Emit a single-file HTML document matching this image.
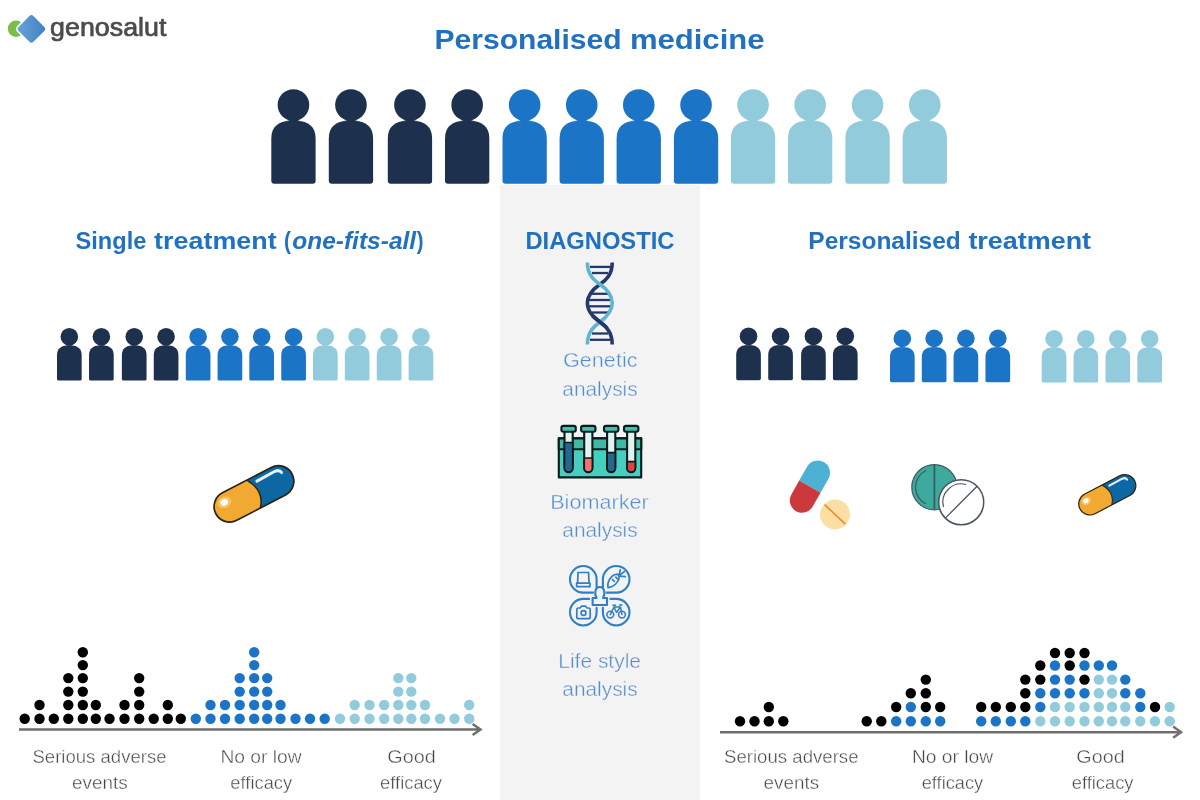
<!DOCTYPE html>
<html lang="en">
<head>
<meta charset="utf-8">
<title>Personalised medicine</title>
<style>
html,body{margin:0;padding:0;background:#fff;}
body{width:1200px;height:800px;overflow:hidden;font-family:"Liberation Sans",sans-serif;}
svg{display:block;}
text{font-family:"Liberation Sans",sans-serif;}
.h{font-weight:bold;fill:#2071c0;}
.lb{fill:#528dce;stroke:#f3f3f3;stroke-width:0.4px;}
.ax{fill:#474747;stroke:#ffffff;stroke-width:0.38px;}
</style>
</head>
<body>
<svg width="1200" height="800" viewBox="0 0 1200 800">
<defs>
<g id="person">
<circle cx="22.15" cy="15.6" r="15.8"/>
<path d="M0 91.4 L0 49 C0 37.5 7 31.6 19 31.6 L25.3 31.6 C37.3 31.6 44.3 37.5 44.3 49 L44.3 91.4 Q44.3 94.4 41.3 94.4 L3 94.4 Q0 94.4 0 91.4 Z"/>
<path d="M12.5 32 Q18.3 31.6 19 29.6 L25.3 29.6 Q26 31.6 31.8 32 Z"/>
</g>
<linearGradient id="lg" x1="0" y1="1" x2="1" y2="0">
<stop offset="0" stop-color="#6aa5dc"/><stop offset="1" stop-color="#3f7fc0"/>
</linearGradient>
</defs>
<rect x="0" y="0" width="1200" height="800" fill="#ffffff"/>

<rect x="500" y="184.8" width="200" height="616" fill="#f3f3f3"/>
<g id="logo">
<circle cx="16" cy="28.7" r="8.2" fill="#7bbf4a"/>
<rect x="-11.3" y="-11.3" width="22.6" height="22.6" rx="3.6" transform="translate(31.4 28.9) rotate(45)" fill="url(#lg)" stroke="#ffffff" stroke-width="1.6"/>
<text y="35.5" font-size="25.3" fill="#4b4b4d" stroke="#4b4b4d" stroke-width="0.7"><tspan x="50.12" textLength="116.28" lengthAdjust="spacingAndGlyphs">genosalut</tspan></text>
</g>
<text class="h" y="48.9" font-size="28.5"><tspan x="434.41" textLength="187.27" lengthAdjust="spacingAndGlyphs">Personalised</tspan> <tspan x="629.90" textLength="134.61" lengthAdjust="spacingAndGlyphs">medicine</tspan></text>
<use href="#person" transform="translate(271.30 89.40) scale(1.0000)" fill="#1d314f"/>
<use href="#person" transform="translate(328.80 89.40) scale(1.0000)" fill="#1d314f"/>
<use href="#person" transform="translate(387.80 89.40) scale(1.0000)" fill="#1d314f"/>
<use href="#person" transform="translate(445.00 89.40) scale(1.0000)" fill="#1d314f"/>
<use href="#person" transform="translate(502.50 89.40) scale(1.0000)" fill="#1b74c6"/>
<use href="#person" transform="translate(559.60 89.40) scale(1.0000)" fill="#1b74c6"/>
<use href="#person" transform="translate(616.60 89.40) scale(1.0000)" fill="#1b74c6"/>
<use href="#person" transform="translate(673.90 89.40) scale(1.0000)" fill="#1b74c6"/>
<use href="#person" transform="translate(730.90 89.40) scale(1.0000)" fill="#92cbdc"/>
<use href="#person" transform="translate(788.00 89.40) scale(1.0000)" fill="#92cbdc"/>
<use href="#person" transform="translate(845.40 89.40) scale(1.0000)" fill="#92cbdc"/>
<use href="#person" transform="translate(902.60 89.40) scale(1.0000)" fill="#92cbdc"/>
<text class="h" y="249" font-size="23.5"><tspan x="75.48" textLength="70.89" lengthAdjust="spacingAndGlyphs">Single</tspan> <tspan x="154.11" textLength="122.61" lengthAdjust="spacingAndGlyphs">treatment</tspan> <tspan x="284.12" textLength="6.90" lengthAdjust="spacingAndGlyphs">(</tspan><tspan x="292.21" textLength="123.96" lengthAdjust="spacingAndGlyphs" font-style="italic">one-fits-all</tspan><tspan x="416.74" textLength="6.79" lengthAdjust="spacingAndGlyphs">)</tspan></text>
<text class="h" y="249" font-size="23.5"><tspan x="525.40" textLength="149.07" lengthAdjust="spacingAndGlyphs">DIAGNOSTIC</tspan></text>
<text class="h" y="249" font-size="23.5"><tspan x="808.36" textLength="152.44" lengthAdjust="spacingAndGlyphs">Personalised</tspan> <tspan x="968.41" textLength="122.69" lengthAdjust="spacingAndGlyphs">treatment</tspan></text>
<use href="#person" transform="translate(57.00 328.00) scale(0.5570)" fill="#1d314f"/>
<use href="#person" transform="translate(89.03 328.00) scale(0.5570)" fill="#1d314f"/>
<use href="#person" transform="translate(121.89 328.00) scale(0.5570)" fill="#1d314f"/>
<use href="#person" transform="translate(153.75 328.00) scale(0.5570)" fill="#1d314f"/>
<use href="#person" transform="translate(185.78 328.00) scale(0.5570)" fill="#1b74c6"/>
<use href="#person" transform="translate(217.58 328.00) scale(0.5570)" fill="#1b74c6"/>
<use href="#person" transform="translate(249.33 328.00) scale(0.5570)" fill="#1b74c6"/>
<use href="#person" transform="translate(281.25 328.00) scale(0.5570)" fill="#1b74c6"/>
<use href="#person" transform="translate(313.00 328.00) scale(0.5570)" fill="#92cbdc"/>
<use href="#person" transform="translate(344.80 328.00) scale(0.5570)" fill="#92cbdc"/>
<use href="#person" transform="translate(376.77 328.00) scale(0.5570)" fill="#92cbdc"/>
<use href="#person" transform="translate(408.63 328.00) scale(0.5570)" fill="#92cbdc"/>
<use href="#person" transform="translate(736.20 327.60) scale(0.5570)" fill="#1d314f"/>
<use href="#person" transform="translate(768.23 327.60) scale(0.5570)" fill="#1d314f"/>
<use href="#person" transform="translate(801.09 327.60) scale(0.5570)" fill="#1d314f"/>
<use href="#person" transform="translate(832.95 327.60) scale(0.5570)" fill="#1d314f"/>
<use href="#person" transform="translate(890.00 329.70) scale(0.5570)" fill="#1b74c6"/>
<use href="#person" transform="translate(921.80 329.70) scale(0.5570)" fill="#1b74c6"/>
<use href="#person" transform="translate(953.55 329.70) scale(0.5570)" fill="#1b74c6"/>
<use href="#person" transform="translate(985.47 329.70) scale(0.5570)" fill="#1b74c6"/>
<use href="#person" transform="translate(1041.70 330.00) scale(0.5570)" fill="#92cbdc"/>
<use href="#person" transform="translate(1073.50 330.00) scale(0.5570)" fill="#92cbdc"/>
<use href="#person" transform="translate(1105.48 330.00) scale(0.5570)" fill="#92cbdc"/>
<use href="#person" transform="translate(1137.34 330.00) scale(0.5570)" fill="#92cbdc"/>
<g id="dna" fill="none" stroke-linecap="butt">
<line x1="590.0" y1="266.9" x2="610.0" y2="266.9" stroke="#24386b" stroke-width="2.3"/>
<line x1="592.0" y1="273.0" x2="608.0" y2="273.0" stroke="#24386b" stroke-width="2.3"/>
<line x1="592.0" y1="293.8" x2="608.0" y2="293.8" stroke="#24386b" stroke-width="2.3"/>
<line x1="589.0" y1="300.0" x2="611.0" y2="300.0" stroke="#24386b" stroke-width="2.3"/>
<line x1="589.0" y1="306.3" x2="611.0" y2="306.3" stroke="#24386b" stroke-width="2.3"/>
<line x1="592.0" y1="312.5" x2="608.0" y2="312.5" stroke="#24386b" stroke-width="2.3"/>
<line x1="592.0" y1="333.5" x2="608.0" y2="333.5" stroke="#24386b" stroke-width="2.3"/>
<line x1="590.0" y1="339.8" x2="610.0" y2="339.8" stroke="#24386b" stroke-width="2.3"/>
<path d="M612.2 262.5 C612.2 275 606 280 600 284.3 C594 288.5 587.4 294 587.4 303 C587.4 312 594 317.5 600 322 C606 326.5 612.2 332 612.2 344.4" stroke="#24386b" stroke-width="3.6"/>
<path d="M587.4 262.5 C587.4 275 594 280 600 284.3 C606 288.5 612.2 294 612.2 303 C612.2 312 606 317.5 600 322 C594 326.5 587.4 332 587.4 344.4" stroke="#5fb6d0" stroke-width="3.6"/>
<path d="M592.5 316 C595 318.4 597.5 320.2 600 322 C602.5 323.8 605 325.7 607.5 328.4" stroke="#24386b" stroke-width="3.6"/>
</g>
<text class="lb" y="367.0" font-size="20.2"><tspan x="563.00" textLength="74.51" lengthAdjust="spacingAndGlyphs">Genetic</tspan></text>
<text class="lb" y="395.5" font-size="20.2"><tspan x="562.32" textLength="75.36" lengthAdjust="spacingAndGlyphs">analysis</tspan></text>
<text class="lb" y="508.5" font-size="20.2"><tspan x="550.16" textLength="98.69" lengthAdjust="spacingAndGlyphs">Biomarker</tspan></text>
<text class="lb" y="537.0" font-size="20.2"><tspan x="562.32" textLength="75.36" lengthAdjust="spacingAndGlyphs">analysis</tspan></text>
<text class="lb" y="667.5" font-size="20.2"><tspan x="558.28" textLength="82.73" lengthAdjust="spacingAndGlyphs">Life style</tspan></text>
<text class="lb" y="696.0" font-size="20.2"><tspan x="562.32" textLength="75.36" lengthAdjust="spacingAndGlyphs">analysis</tspan></text>
<g id="tubes" stroke="#0c1b1c" stroke-width="2.1" stroke-linejoin="round">
<rect x="558.8" y="438.4" width="82.4" height="39" fill="#46cfbf"/>
<rect x="558.8" y="438.4" width="82.4" height="10.8" fill="#3fb9a4"/>
<path d="M564.5 431 L564.5 468 A4.1 4.1 0 0 0 572.7 468 L572.7 431 Z" fill="#dff4f1"/>
<path d="M564.5 442.5 L564.5 468 A4.1 4.1 0 0 0 572.7 468 L572.7 442.5 Z" fill="#23698f" stroke-width="1.7"/>
<rect x="561.4" y="425.9" width="14.4" height="5.8" rx="2" fill="#3fc2aa"/>
<path d="M584.2 431 L584.2 468 A4.1 4.1 0 0 0 592.4 468 L592.4 431 Z" fill="#dff4f1"/>
<path d="M584.2 458.0 L584.2 468 A4.1 4.1 0 0 0 592.4 468 L592.4 458.0 Z" fill="#f0736f" stroke-width="1.7"/>
<rect x="581.1" y="425.9" width="14.4" height="5.8" rx="2" fill="#3fc2aa"/>
<path d="M607.1 431 L607.1 468 A4.1 4.1 0 0 0 615.3 468 L615.3 431 Z" fill="#dff4f1"/>
<path d="M607.1 452.6 L607.1 468 A4.1 4.1 0 0 0 615.3 468 L615.3 452.6 Z" fill="#23698f" stroke-width="1.7"/>
<rect x="604.0" y="425.9" width="14.4" height="5.8" rx="2" fill="#3fc2aa"/>
<path d="M627.1 431 L627.1 468 A4.1 4.1 0 0 0 635.3 468 L635.3 431 Z" fill="#dff4f1"/>
<path d="M627.1 461.7 L627.1 468 A4.1 4.1 0 0 0 635.3 468 L635.3 461.7 Z" fill="#d9463f" stroke-width="1.7"/>
<rect x="624.0" y="425.9" width="14.4" height="5.8" rx="2" fill="#3fc2aa"/>
</g>
<g id="life" fill="none" stroke="#2f7fc6" stroke-width="2.1" stroke-linecap="round" stroke-linejoin="round">
<path d="M593.0 592.6 L583.3 592.6 A13.3 13.3 0 1 1 596.6 579.3 L596.6 588.8"/>
<path d="M606.5 592.6 L616.2 592.6 A13.3 13.3 0 1 0 602.9 579.3 L602.9 588.8"/>
<path d="M589.1 598.9 L583.3 598.9 A13.3 13.3 0 1 0 596.6 612.2 L596.6 607.7"/>
<path d="M610.4 598.9 L616.2 598.9 A13.3 13.3 0 1 1 602.9 612.2 L602.9 607.7"/>
<path d="M596.6 598 C594 594 595 587 599.8 587 C604.6 587 605.6 594 603 598 L607 598 L607 605 L592.6 605 L592.6 598 Z" fill="#f3f3f3"/>
<path d="M577.6 583.2 L578 572.5 L588.6 572.5 L589 583.2 Z M576.6 583.2 L590 583.2 L590 586.6 L576.6 586.6 Z" stroke-width="1.7"/>
<path d="M608 587.6 C607 581 611.5 574.5 617.6 574.2 C621.8 577.8 616 586.6 608 587.6 Z M612.5 579.5 L614.3 581.3 M615.8 577.2 L617.2 578.6 M619.3 574.6 L620.2 569.8 M619.8 575 L624.3 571.6 M620.3 576.2 L625.3 576.6" stroke-width="1.7"/>
<path d="M578.5 608 L580 608 L581.5 606.2 L585.5 606.2 L587 608 L588.5 608 Q590.2 608 590.2 609.7 L590.2 617 Q590.2 618.7 588.5 618.7 L578.5 618.7 Q576.8 618.7 576.8 617 L576.8 609.7 Q576.8 608 578.5 608 Z" stroke-width="1.7"/>
<circle cx="583.5" cy="613" r="2.4" stroke-width="1.6"/>
<circle cx="610.3" cy="614.6" r="3.4" stroke-width="1.6"/><circle cx="622" cy="614.6" r="3.4" stroke-width="1.6"/>
<path d="M610.3 614.6 L614 607 L620.5 607 L622 614.6 M614 607 L616.5 612.5 L620.5 607 M613 605.2 L615.5 605.2 M619.5 605 L622 605" stroke-width="1.5"/>
</g>
<g transform="translate(254.00 493.90) rotate(-27.5) scale(1.000)">
<path d="M0 -15.5 L-27.5 -15.5 A15.5 15.5 0 0 0 -27.5 15.5 L-1 15.5 Q11 2 0 -15.5 Z" fill="#f2a931"/>
<path d="M-1 15.5 L27.5 15.5 A15.5 15.5 0 0 0 27.5 -15.5 L0 -15.5 Q11 2 -1 15.5 Z" fill="#0d67a3"/>
<ellipse cx="-30" cy="-6" rx="7" ry="5.5" fill="#ffd98a" opacity="0.55"/>
<rect x="-43.0" y="-15.5" width="86.0" height="31.0" rx="15.5" fill="none" stroke="#2b2414" stroke-width="1.7"/>
<path d="M0 -15.5 Q11 2 -1 15.5" fill="none" stroke="#2b2414" stroke-width="1.5"/>
<ellipse cx="-30.3" cy="-6.3" rx="3.9" ry="3.3" fill="#ffffff"/>
<path d="M8.5 -10 L29 -10.4 Q34 -9.8 34.3 -6.2" fill="none" stroke="#e4f3fb" stroke-width="3" stroke-linecap="round"/>
</g>
<g transform="translate(1107.30 494.80) rotate(-27.5) scale(0.715)">
<path d="M0 -15.5 L-27.5 -15.5 A15.5 15.5 0 0 0 -27.5 15.5 L-1 15.5 Q11 2 0 -15.5 Z" fill="#f2a931"/>
<path d="M-1 15.5 L27.5 15.5 A15.5 15.5 0 0 0 27.5 -15.5 L0 -15.5 Q11 2 -1 15.5 Z" fill="#0d67a3"/>
<ellipse cx="-30" cy="-6" rx="7" ry="5.5" fill="#ffd98a" opacity="0.55"/>
<rect x="-43.0" y="-15.5" width="86.0" height="31.0" rx="15.5" fill="none" stroke="#2b2414" stroke-width="1.7"/>
<path d="M0 -15.5 Q11 2 -1 15.5" fill="none" stroke="#2b2414" stroke-width="1.5"/>
<ellipse cx="-30.3" cy="-6.3" rx="3.9" ry="3.3" fill="#ffffff"/>
<path d="M8.5 -10 L29 -10.4 Q34 -9.8 34.3 -6.2" fill="none" stroke="#e4f3fb" stroke-width="3" stroke-linecap="round"/>
</g>
<g transform="translate(809.9 486.6) rotate(29.5)">
<path d="M-12.25 0 L-12.25 -15.95 A12.25 12.25 0 0 1 12.25 -15.95 L12.25 0 Z" fill="#4cb1d2"/>
<path d="M-12.25 0 L-12.25 15.95 A12.25 12.25 0 0 0 12.25 15.95 L12.25 0 Z" fill="#cb393d"/>
</g>
<circle cx="835" cy="514.4" r="15" fill="#fbdfa5"/>
<line x1="824.6" y1="504.6" x2="845.4" y2="524.2" stroke="#e8922c" stroke-width="1.7"/>
<g fill="none" stroke="#3f5965" stroke-width="1.2">
<circle cx="934.4" cy="487.2" r="22.6" fill="#3caa9d"/>
<line x1="934.4" y1="464.6" x2="934.4" y2="509.8" stroke-width="1.8"/>
<path d="M926 470.5 A18.5 18.5 0 0 0 926 503.9"/>
<circle cx="961.2" cy="502.2" r="22.5" fill="#ffffff" stroke="#4a545e" stroke-width="1.5"/>
<line x1="945.3" y1="518.1" x2="977.1" y2="486.3" stroke="#4a545e" stroke-width="1.3"/>
<path d="M943.5 507 A18.3 18.3 0 0 1 966 484.5" stroke="#4a545e"/>
</g>
<circle cx="24.7" cy="718.8" r="5.2" fill="#000000"/>
<circle cx="39.5" cy="718.8" r="5.2" fill="#000000"/>
<circle cx="39.5" cy="705.0" r="5.2" fill="#000000"/>
<circle cx="53.8" cy="718.8" r="5.2" fill="#000000"/>
<circle cx="68.3" cy="718.8" r="5.2" fill="#000000"/>
<circle cx="68.3" cy="705.0" r="5.2" fill="#000000"/>
<circle cx="68.3" cy="691.6" r="5.2" fill="#000000"/>
<circle cx="68.3" cy="678.1" r="5.2" fill="#000000"/>
<circle cx="82.8" cy="718.8" r="5.2" fill="#000000"/>
<circle cx="82.8" cy="705.0" r="5.2" fill="#000000"/>
<circle cx="82.8" cy="691.6" r="5.2" fill="#000000"/>
<circle cx="82.8" cy="678.1" r="5.2" fill="#000000"/>
<circle cx="82.8" cy="665.1" r="5.2" fill="#000000"/>
<circle cx="82.8" cy="652.2" r="5.2" fill="#000000"/>
<circle cx="95.8" cy="718.8" r="5.2" fill="#000000"/>
<circle cx="95.8" cy="705.0" r="5.2" fill="#000000"/>
<circle cx="109.5" cy="718.8" r="5.2" fill="#000000"/>
<circle cx="124.5" cy="718.8" r="5.2" fill="#000000"/>
<circle cx="124.5" cy="705.0" r="5.2" fill="#000000"/>
<circle cx="139.2" cy="718.8" r="5.2" fill="#000000"/>
<circle cx="139.2" cy="705.0" r="5.2" fill="#000000"/>
<circle cx="139.2" cy="691.6" r="5.2" fill="#000000"/>
<circle cx="139.2" cy="678.1" r="5.2" fill="#000000"/>
<circle cx="153.7" cy="718.8" r="5.2" fill="#000000"/>
<circle cx="167.8" cy="718.8" r="5.2" fill="#000000"/>
<circle cx="167.8" cy="705.0" r="5.2" fill="#000000"/>
<circle cx="180.8" cy="718.8" r="5.2" fill="#000000"/>
<circle cx="195.8" cy="718.8" r="5.2" fill="#1b74c6"/>
<circle cx="210.5" cy="718.8" r="5.2" fill="#1b74c6"/>
<circle cx="210.5" cy="705.0" r="5.2" fill="#1b74c6"/>
<circle cx="225.0" cy="718.8" r="5.2" fill="#1b74c6"/>
<circle cx="225.0" cy="705.0" r="5.2" fill="#1b74c6"/>
<circle cx="239.7" cy="718.8" r="5.2" fill="#1b74c6"/>
<circle cx="239.7" cy="705.0" r="5.2" fill="#1b74c6"/>
<circle cx="239.7" cy="691.6" r="5.2" fill="#1b74c6"/>
<circle cx="239.7" cy="678.1" r="5.2" fill="#1b74c6"/>
<circle cx="254.2" cy="718.8" r="5.2" fill="#1b74c6"/>
<circle cx="254.2" cy="705.0" r="5.2" fill="#1b74c6"/>
<circle cx="254.2" cy="691.6" r="5.2" fill="#1b74c6"/>
<circle cx="254.2" cy="678.1" r="5.2" fill="#1b74c6"/>
<circle cx="254.2" cy="665.1" r="5.2" fill="#1b74c6"/>
<circle cx="254.2" cy="652.2" r="5.2" fill="#1b74c6"/>
<circle cx="267.2" cy="718.8" r="5.2" fill="#1b74c6"/>
<circle cx="267.2" cy="705.0" r="5.2" fill="#1b74c6"/>
<circle cx="267.2" cy="691.6" r="5.2" fill="#1b74c6"/>
<circle cx="267.2" cy="678.1" r="5.2" fill="#1b74c6"/>
<circle cx="280.5" cy="718.8" r="5.2" fill="#1b74c6"/>
<circle cx="280.5" cy="705.0" r="5.2" fill="#1b74c6"/>
<circle cx="295.5" cy="718.8" r="5.2" fill="#1b74c6"/>
<circle cx="310.0" cy="718.8" r="5.2" fill="#1b74c6"/>
<circle cx="324.7" cy="718.8" r="5.2" fill="#1b74c6"/>
<circle cx="340.0" cy="718.8" r="5.2" fill="#92cbdc"/>
<circle cx="354.7" cy="718.8" r="5.2" fill="#92cbdc"/>
<circle cx="354.7" cy="705.0" r="5.2" fill="#92cbdc"/>
<circle cx="369.5" cy="718.8" r="5.2" fill="#92cbdc"/>
<circle cx="369.5" cy="705.0" r="5.2" fill="#92cbdc"/>
<circle cx="384.2" cy="718.8" r="5.2" fill="#92cbdc"/>
<circle cx="384.2" cy="705.0" r="5.2" fill="#92cbdc"/>
<circle cx="398.3" cy="718.8" r="5.2" fill="#92cbdc"/>
<circle cx="398.3" cy="705.0" r="5.2" fill="#92cbdc"/>
<circle cx="398.3" cy="691.6" r="5.2" fill="#92cbdc"/>
<circle cx="398.3" cy="678.1" r="5.2" fill="#92cbdc"/>
<circle cx="411.3" cy="718.8" r="5.2" fill="#92cbdc"/>
<circle cx="411.3" cy="705.0" r="5.2" fill="#92cbdc"/>
<circle cx="411.3" cy="691.6" r="5.2" fill="#92cbdc"/>
<circle cx="411.3" cy="678.1" r="5.2" fill="#92cbdc"/>
<circle cx="425.0" cy="718.8" r="5.2" fill="#92cbdc"/>
<circle cx="425.0" cy="705.0" r="5.2" fill="#92cbdc"/>
<circle cx="440.0" cy="718.8" r="5.2" fill="#92cbdc"/>
<circle cx="454.5" cy="718.8" r="5.2" fill="#92cbdc"/>
<circle cx="469.2" cy="718.8" r="5.2" fill="#92cbdc"/>
<circle cx="469.2" cy="705.0" r="5.2" fill="#92cbdc"/>
<circle cx="740.0" cy="721.2" r="5.2" fill="#000000"/>
<circle cx="754.5" cy="721.2" r="5.2" fill="#000000"/>
<circle cx="768.8" cy="721.2" r="5.2" fill="#000000"/>
<circle cx="768.8" cy="707.0" r="5.2" fill="#000000"/>
<circle cx="783.3" cy="721.2" r="5.2" fill="#000000"/>
<circle cx="866.7" cy="721.2" r="5.2" fill="#000000"/>
<circle cx="881.3" cy="721.2" r="5.2" fill="#000000"/>
<circle cx="896.2" cy="721.2" r="5.2" fill="#1b74c6"/>
<circle cx="896.2" cy="707.0" r="5.2" fill="#000000"/>
<circle cx="910.8" cy="721.2" r="5.2" fill="#1b74c6"/>
<circle cx="910.8" cy="707.0" r="5.2" fill="#1b74c6"/>
<circle cx="910.8" cy="693.3" r="5.2" fill="#000000"/>
<circle cx="925.8" cy="721.2" r="5.2" fill="#1b74c6"/>
<circle cx="925.8" cy="707.0" r="5.2" fill="#000000"/>
<circle cx="925.8" cy="693.3" r="5.2" fill="#000000"/>
<circle cx="925.8" cy="679.6" r="5.2" fill="#000000"/>
<circle cx="940.2" cy="721.2" r="5.2" fill="#1b74c6"/>
<circle cx="940.2" cy="707.0" r="5.2" fill="#000000"/>
<circle cx="981.2" cy="721.2" r="5.2" fill="#1b74c6"/>
<circle cx="981.2" cy="707.0" r="5.2" fill="#000000"/>
<circle cx="995.8" cy="721.2" r="5.2" fill="#1b74c6"/>
<circle cx="995.8" cy="707.0" r="5.2" fill="#000000"/>
<circle cx="1010.8" cy="721.2" r="5.2" fill="#1b74c6"/>
<circle cx="1010.8" cy="707.0" r="5.2" fill="#000000"/>
<circle cx="1025.3" cy="721.2" r="5.2" fill="#1b74c6"/>
<circle cx="1025.3" cy="707.0" r="5.2" fill="#000000"/>
<circle cx="1025.3" cy="693.3" r="5.2" fill="#000000"/>
<circle cx="1025.3" cy="679.6" r="5.2" fill="#000000"/>
<circle cx="1040.3" cy="721.2" r="5.2" fill="#92cbdc"/>
<circle cx="1040.3" cy="707.0" r="5.2" fill="#1b74c6"/>
<circle cx="1040.3" cy="693.3" r="5.2" fill="#1b74c6"/>
<circle cx="1040.3" cy="679.6" r="5.2" fill="#000000"/>
<circle cx="1040.3" cy="665.5" r="5.2" fill="#000000"/>
<circle cx="1055.0" cy="721.2" r="5.2" fill="#92cbdc"/>
<circle cx="1055.0" cy="707.0" r="5.2" fill="#92cbdc"/>
<circle cx="1055.0" cy="693.3" r="5.2" fill="#1b74c6"/>
<circle cx="1055.0" cy="679.6" r="5.2" fill="#1b74c6"/>
<circle cx="1055.0" cy="665.5" r="5.2" fill="#1b74c6"/>
<circle cx="1055.0" cy="653.0" r="5.2" fill="#000000"/>
<circle cx="1069.7" cy="721.2" r="5.2" fill="#92cbdc"/>
<circle cx="1069.7" cy="707.0" r="5.2" fill="#92cbdc"/>
<circle cx="1069.7" cy="693.3" r="5.2" fill="#1b74c6"/>
<circle cx="1069.7" cy="679.6" r="5.2" fill="#1b74c6"/>
<circle cx="1069.7" cy="665.5" r="5.2" fill="#000000"/>
<circle cx="1069.7" cy="653.0" r="5.2" fill="#000000"/>
<circle cx="1084.5" cy="721.2" r="5.2" fill="#92cbdc"/>
<circle cx="1084.5" cy="707.0" r="5.2" fill="#92cbdc"/>
<circle cx="1084.5" cy="693.3" r="5.2" fill="#1b74c6"/>
<circle cx="1084.5" cy="679.6" r="5.2" fill="#000000"/>
<circle cx="1084.5" cy="665.5" r="5.2" fill="#1b74c6"/>
<circle cx="1084.5" cy="653.0" r="5.2" fill="#000000"/>
<circle cx="1098.8" cy="721.2" r="5.2" fill="#92cbdc"/>
<circle cx="1098.8" cy="707.0" r="5.2" fill="#92cbdc"/>
<circle cx="1098.8" cy="693.3" r="5.2" fill="#92cbdc"/>
<circle cx="1098.8" cy="679.6" r="5.2" fill="#92cbdc"/>
<circle cx="1098.8" cy="665.5" r="5.2" fill="#1b74c6"/>
<circle cx="1112.0" cy="721.2" r="5.2" fill="#92cbdc"/>
<circle cx="1112.0" cy="707.0" r="5.2" fill="#92cbdc"/>
<circle cx="1112.0" cy="693.3" r="5.2" fill="#92cbdc"/>
<circle cx="1112.0" cy="679.6" r="5.2" fill="#92cbdc"/>
<circle cx="1112.0" cy="665.5" r="5.2" fill="#1b74c6"/>
<circle cx="1125.3" cy="721.2" r="5.2" fill="#92cbdc"/>
<circle cx="1125.3" cy="707.0" r="5.2" fill="#92cbdc"/>
<circle cx="1125.3" cy="693.3" r="5.2" fill="#1b74c6"/>
<circle cx="1125.3" cy="679.6" r="5.2" fill="#1b74c6"/>
<circle cx="1140.3" cy="721.2" r="5.2" fill="#92cbdc"/>
<circle cx="1140.3" cy="707.0" r="5.2" fill="#1b74c6"/>
<circle cx="1140.3" cy="693.3" r="5.2" fill="#1b74c6"/>
<circle cx="1155.0" cy="721.2" r="5.2" fill="#92cbdc"/>
<circle cx="1155.0" cy="707.0" r="5.2" fill="#000000"/>
<circle cx="1169.7" cy="721.2" r="5.2" fill="#92cbdc"/>
<circle cx="1169.7" cy="707.0" r="5.2" fill="#92cbdc"/>
<g fill="none" stroke="#6f6f6f" stroke-width="2.4">
<path d="M19 729.5 L479.5 729.5 M472.6 723.9 L480.6 729.5 L472.6 735.1"/>
<path d="M720 732.2 L1180 732.2 M1173.1 726.6 L1181.1 732.2 L1173.1 737.8"/>
</g>
<text class="ax" y="763.0" font-size="18.3"><tspan x="32.50" textLength="134.04" lengthAdjust="spacingAndGlyphs">Serious adverse</tspan></text>
<text class="ax" y="788.8" font-size="18.3"><tspan x="72.00" textLength="55.75" lengthAdjust="spacingAndGlyphs">events</tspan></text>
<text class="ax" y="763.0" font-size="18.3"><tspan x="220.42" textLength="81.20" lengthAdjust="spacingAndGlyphs">No or low</tspan></text>
<text class="ax" y="788.8" font-size="18.3"><tspan x="230.39" textLength="61.78" lengthAdjust="spacingAndGlyphs">efficacy</tspan></text>
<text class="ax" y="763.0" font-size="18.3"><tspan x="387.38" textLength="48.41" lengthAdjust="spacingAndGlyphs">Good</tspan></text>
<text class="ax" y="788.8" font-size="18.3"><tspan x="380.10" textLength="61.89" lengthAdjust="spacingAndGlyphs">efficacy</tspan></text>
<text class="ax" y="763.0" font-size="18.3"><tspan x="724.00" textLength="134.53" lengthAdjust="spacingAndGlyphs">Serious adverse</tspan></text>
<text class="ax" y="788.8" font-size="18.3"><tspan x="763.64" textLength="55.49" lengthAdjust="spacingAndGlyphs">events</tspan></text>
<text class="ax" y="763.0" font-size="18.3"><tspan x="911.93" textLength="81.30" lengthAdjust="spacingAndGlyphs">No or low</tspan></text>
<text class="ax" y="788.8" font-size="18.3"><tspan x="921.73" textLength="61.49" lengthAdjust="spacingAndGlyphs">efficacy</tspan></text>
<text class="ax" y="762.7" font-size="18.3"><tspan x="1076.38" textLength="48.24" lengthAdjust="spacingAndGlyphs">Good</tspan></text>
<text class="ax" y="788.8" font-size="18.3"><tspan x="1071.77" textLength="61.69" lengthAdjust="spacingAndGlyphs">efficacy</tspan></text>
</svg>
</body>
</html>
